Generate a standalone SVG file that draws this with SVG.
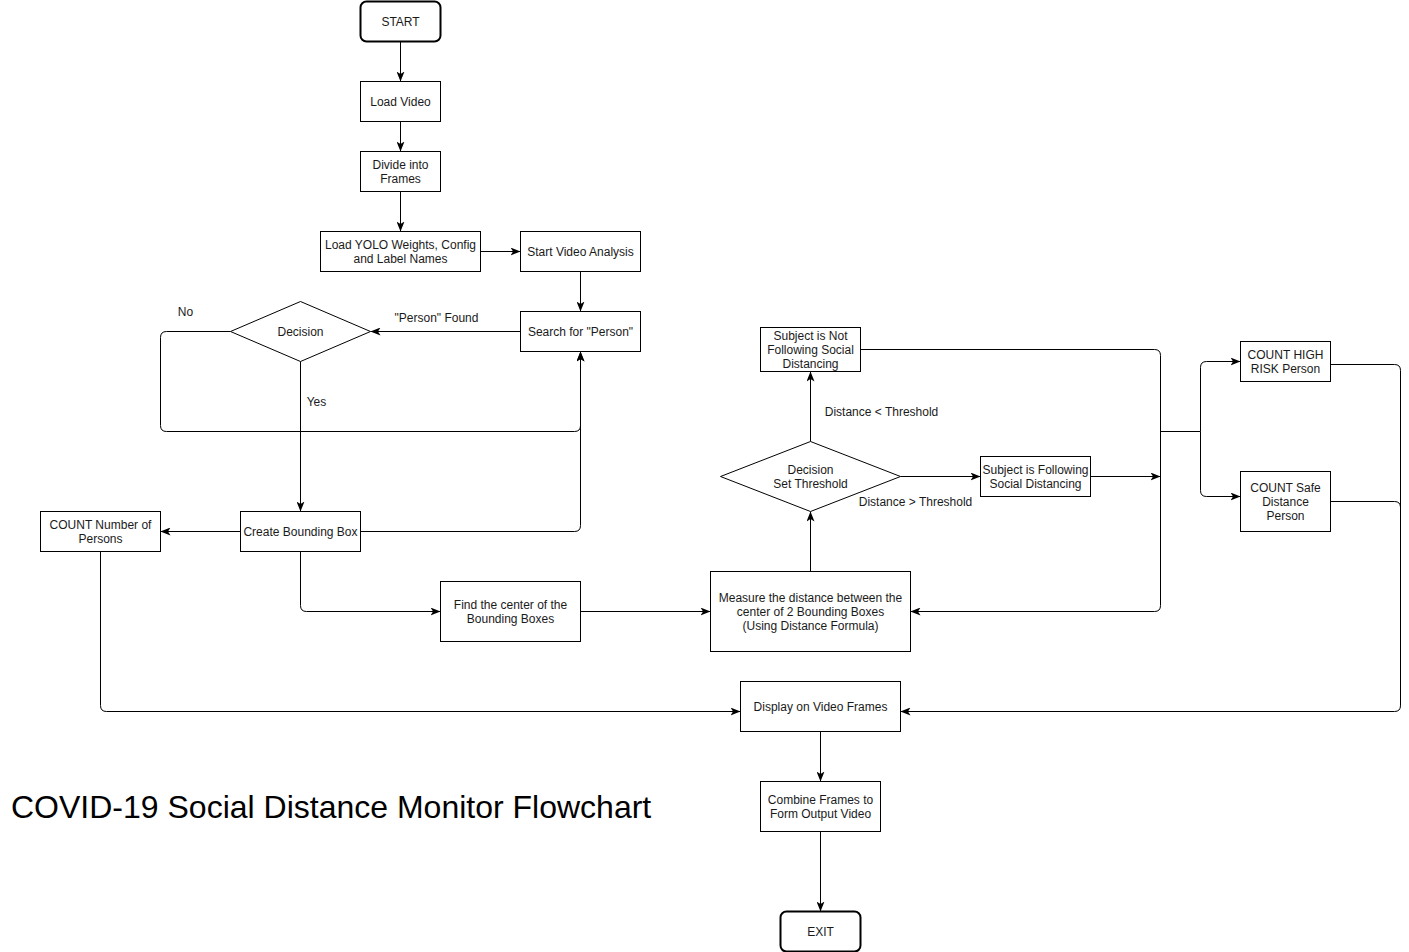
<svg xmlns="http://www.w3.org/2000/svg" width="1409" height="952" viewBox="0 0 1409 952">
<style>
.n{fill:#fff;stroke:#000;stroke-width:1}
.tx{font-family:"Liberation Sans",Arial,Helvetica,sans-serif;font-size:12px;fill:#1a1a1a;text-anchor:middle}
.lb{font-family:"Liberation Sans",Arial,Helvetica,sans-serif;font-size:12px;fill:#1a1a1a;text-anchor:middle}
.e{fill:none;stroke:#000;stroke-width:1}
.title{font-family:"Liberation Sans",Arial,Helvetica,sans-serif;font-size:32px;fill:#000}
</style>
<defs>
<marker id="a" markerUnits="userSpaceOnUse" markerWidth="10" markerHeight="8" viewBox="0 0 10 8" refX="10" refY="4" orient="auto">
<path d="M0,0 L10,4 L0,8 L2.5,4 Z" fill="#000"/>
</marker>
</defs>
<rect width="1409" height="952" fill="#fff"/>
<g transform="translate(0.5,0.5)">
<g id="connectors">
<path class="e" d="M400,41 V81" marker-end="url(#a)"/>
<path class="e" d="M400,121 V151" marker-end="url(#a)"/>
<path class="e" d="M400,191 V231" marker-end="url(#a)"/>
<path class="e" d="M480,251 H520" marker-end="url(#a)"/>
<path class="e" d="M580,271 V311" marker-end="url(#a)"/>
<path class="e" d="M520,331 H370" marker-end="url(#a)"/>
<path class="e" d="M230,331 H166 Q160,331 160,337 V425 Q160,431 166,431 H574 Q580,431 580,425 V351" marker-end="url(#a)"/>
<path class="e" d="M300,361 V511" marker-end="url(#a)"/>
<path class="e" d="M360,531 H574 Q580,531 580,525 V351" marker-end="url(#a)"/>
<path class="e" d="M240,531 H160" marker-end="url(#a)"/>
<path class="e" d="M100,551 V705 Q100,711 106,711 H740" marker-end="url(#a)"/>
<path class="e" d="M300,551 V605 Q300,611 306,611 H440" marker-end="url(#a)"/>
<path class="e" d="M580,611 H710" marker-end="url(#a)"/>
<path class="e" d="M810,571 V511" marker-end="url(#a)"/>
<path class="e" d="M810,441 V371" marker-end="url(#a)"/>
<path class="e" d="M900,476 H980" marker-end="url(#a)"/>
<path class="e" d="M1090,476 H1160" marker-end="url(#a)"/>
<path class="e" d="M860,349 H1154 Q1160,349 1160,355 V605 Q1160,611 1154,611 H910" marker-end="url(#a)"/>
<path class="e" d="M1160,431 H1200"/>
<path class="e" d="M1200,431 V367 Q1200,361 1206,361 H1240" marker-end="url(#a)"/>
<path class="e" d="M1200,431 V490 Q1200,496 1206,496 H1240" marker-end="url(#a)"/>
<path class="e" d="M1330,364 H1394 Q1400,364 1400,370 V705 Q1400,711 1394,711 H900" marker-end="url(#a)"/>
<path class="e" d="M1330,501 H1394 Q1400,501 1400,507 V705"/>
<path class="e" d="M820,731 V781" marker-end="url(#a)"/>
<path class="e" d="M820,831 V911" marker-end="url(#a)"/>
<text class="lb" x="436" y="321">"Person" Found</text>
<text class="lb" x="185" y="315">No</text>
<text class="lb" x="316" y="405">Yes</text>
<text class="lb" x="881" y="415">Distance &lt; Threshold</text>
<text class="lb" x="915" y="505">Distance &gt; Threshold</text>
</g>
<g id="start"><rect class="n" x="360" y="1" width="80" height="40" rx="6" style="stroke-width:2"/><text class="tx" x="400" y="25">START</text></g>
<g id="load-video"><rect class="n" x="360" y="81" width="80" height="40"/><text class="tx" x="400" y="105">Load Video</text></g>
<g id="divide"><rect class="n" x="360" y="151" width="80" height="40"/><text class="tx" x="400" y="168">Divide into</text><text class="tx" x="400" y="182">Frames</text></g>
<g id="load-yolo"><rect class="n" x="320" y="231" width="160" height="40"/><text class="tx" x="400" y="248">Load YOLO Weights, Config</text><text class="tx" x="400" y="262">and Label Names</text></g>
<g id="start-analysis"><rect class="n" x="520" y="231" width="120" height="40"/><text class="tx" x="580" y="255">Start Video Analysis</text></g>
<g id="search"><rect class="n" x="520" y="311" width="120" height="40"/><text class="tx" x="580" y="335">Search for "Person"</text></g>
<g id="decision1"><polygon class="n" points="300,301 370,331 300,361 230,331"/><text class="tx" x="300" y="335">Decision</text></g>
<g id="create-bbox"><rect class="n" x="240" y="511" width="120" height="40"/><text class="tx" x="300" y="535">Create Bounding Box</text></g>
<g id="count-persons"><rect class="n" x="40" y="511" width="120" height="40"/><text class="tx" x="100" y="528">COUNT Number of</text><text class="tx" x="100" y="542">Persons</text></g>
<g id="find-center"><rect class="n" x="440" y="581" width="140" height="60"/><text class="tx" x="510" y="608">Find the center of the</text><text class="tx" x="510" y="622">Bounding Boxes</text></g>
<g id="measure"><rect class="n" x="710" y="571" width="200" height="80"/><text class="tx" x="810" y="601">Measure the distance between the</text><text class="tx" x="810" y="615">center of 2 Bounding Boxes</text><text class="tx" x="810" y="629">(Using Distance Formula)</text></g>
<g id="decision2"><polygon class="n" points="810,441 900,476 810,511 720,476"/><text class="tx" x="810" y="473">Decision</text><text class="tx" x="810" y="487">Set Threshold</text></g>
<g id="not-following"><rect class="n" x="760" y="327" width="100" height="44"/><text class="tx" x="810" y="339">Subject is Not</text><text class="tx" x="810" y="353">Following Social</text><text class="tx" x="810" y="367">Distancing</text></g>
<g id="following"><rect class="n" x="980" y="456" width="110" height="40"/><text class="tx" x="1035" y="473">Subject is Following</text><text class="tx" x="1035" y="487">Social Distancing</text></g>
<g id="count-high"><rect class="n" x="1240" y="341" width="90" height="40"/><text class="tx" x="1285" y="358">COUNT HIGH</text><text class="tx" x="1285" y="372">RISK Person</text></g>
<g id="count-safe"><rect class="n" x="1240" y="471" width="90" height="60"/><text class="tx" x="1285" y="491">COUNT Safe</text><text class="tx" x="1285" y="505">Distance</text><text class="tx" x="1285" y="519">Person</text></g>
<g id="display"><rect class="n" x="740" y="681" width="160" height="50"/><text class="tx" x="820" y="710">Display on Video Frames</text></g>
<g id="combine"><rect class="n" x="760" y="781" width="120" height="50"/><text class="tx" x="820" y="803">Combine Frames to</text><text class="tx" x="820" y="817">Form Output Video</text></g>
<g id="exit"><rect class="n" x="780" y="911" width="80" height="40" rx="6" style="stroke-width:2"/><text class="tx" x="820" y="935">EXIT</text></g>
</g>
<text class="title" x="11" y="818">COVID-19 Social Distance Monitor Flowchart</text>
</svg>
